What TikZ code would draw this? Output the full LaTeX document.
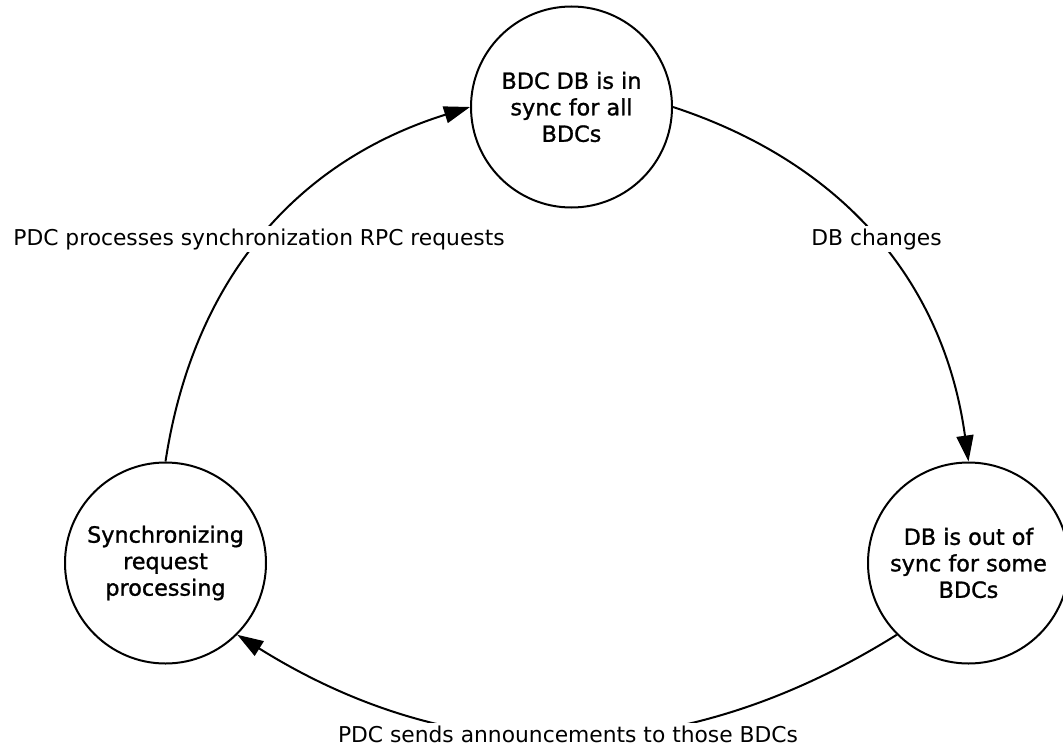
\documentclass[tikz,border=0pt]{standalone}
\usepackage{fontspec}
\setmainfont{DejaVu Sans}
\newfontfamily\statefont[FakeBold=1.2]{DejaVu Sans}
\usetikzlibrary{arrows.meta}
\begin{document}
\begin{tikzpicture}[x=1pt,y=-1pt,
  state/.style={circle,draw,line width=2pt,minimum size=201pt,inner sep=0pt,align=center,font=\statefont\fontsize{22.3}{26.5}\selectfont},
  conn/.style={line width=2pt,-{Triangle[length=26pt,width=17pt]}},
  lbl/.style={fill=white,inner sep=2pt,anchor=base,font=\fontsize{21.8}{26}\selectfont}]
\useasboundingbox (0,0) rectangle (1063,752);
\node[state] (top) at (571.5,107) {BDC DB is in\\sync for all\\BDCs};
\node[state] (right) at (968.5,563) {DB is out of\\sync for some\\BDCs};
\node[state] (left) at (165.5,563) {Synchronizing\\request\\processing};
\draw[conn] (top.east) to[bend left=32] (right.north);
\draw[conn] (right.south west) to[bend left=32] (left.south east);
\draw[conn] (left.north) to[bend left=32] (top.west);
\node[lbl] (lchg) at (876.5,245) {DB changes};
\node[lbl] (lproc) at (259,245) {PDC processes synchronization RPC requests};
\node[lbl] (lsend) at (568,742) {PDC sends announcements to those BDCs};
\end{tikzpicture}
\end{document}
